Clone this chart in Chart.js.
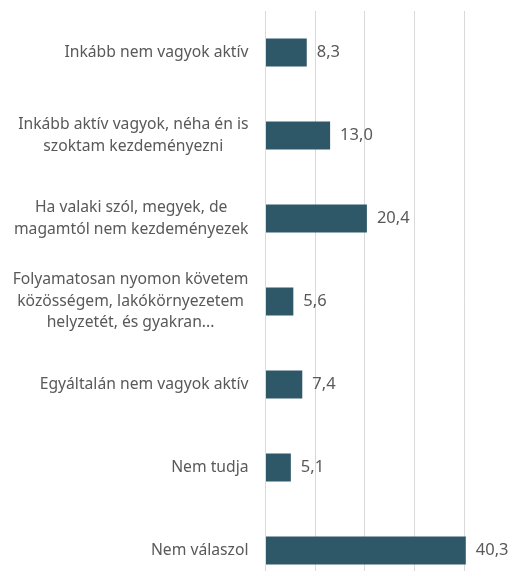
<!DOCTYPE html>
<html lang="hu">
<head>
    <meta charset="UTF-8">
    <title>Aktivitás</title>
    <style>
        body {
            margin: 0;
            overflow: hidden;
            background: #ffffff;
            font-family: "Noto Sans", sans-serif;
        }

        #chartBox {
            position: relative;
            width: 516px;
            height: 592px;
        }
    </style>
    <script src="https://cdn.jsdelivr.net/npm/chart.js"></script>
</head>
<body>
    <div id="chartBox">
        <canvas id="chart1"></canvas>
    </div>
    <script>
        // Categories (multi-line labels as arrays)
        const categories = [
            ["Inkább nem vagyok aktív"],
            ["Inkább aktív vagyok, néha én is", "szoktam kezdeményezni"],
            ["Ha valaki szól, megyek, de", "magamtól nem kezdeményezek"],
            ["Folyamatosan nyomon követem", "közösségem, lakókörnyezetem", "helyzetét, és gyakran..."],
            ["Egyáltalán nem vagyok aktív"],
            ["Nem tudja"],
            ["Nem válaszol"]
        ];
        const values = [8.3, 13.0, 20.4, 5.6, 7.4, 5.1, 40.3];
        const xTicks = [0, 10, 20, 30, 40, 50];

        const barColor = '#2e5868';
        const textColor = '#595959';

        function formatValue(v) {
            return v.toFixed(1).replace('.', ',');
        }

        // Category labels: block right-aligned, lines centered inside block (like Excel)
        const categoryLabels = {
            id: 'categoryLabels',
            afterDraw(chart) {
                const ctx = chart.ctx;
                const yScale = chart.scales.y;
                const lineH = 21.5;
                const right = yScale.right - 17;
                ctx.save();
                ctx.font = '15.7px "Noto Sans", sans-serif';
                ctx.fillStyle = textColor;
                ctx.textAlign = 'center';
                ctx.textBaseline = 'middle';
                categories.forEach((lines, i) => {
                    const yc = yScale.getPixelForTick(i);
                    const widest = Math.max(...lines.map(l => ctx.measureText(l).width));
                    const xc = right - widest / 2;
                    const top = yc - (lines.length - 1) * lineH / 2;
                    lines.forEach((l, j) => ctx.fillText(l, xc, top + j * lineH));
                });
                ctx.restore();
            }
        };

        // Value labels at the end of each bar
        const valueLabels = {
            id: 'valueLabels',
            afterDatasetsDraw(chart) {
                const ctx = chart.ctx;
                const meta = chart.getDatasetMeta(0);
                ctx.save();
                ctx.font = '16.5px "Noto Sans", sans-serif';
                ctx.fillStyle = textColor;
                ctx.textAlign = 'left';
                ctx.textBaseline = 'middle';
                meta.data.forEach((bar, i) => {
                    ctx.fillText(formatValue(values[i]), bar.x + 10, bar.y);
                });
                ctx.restore();
            }
        };

        new Chart(document.getElementById('chart1'), {
            type: 'bar',
            data: {
                labels: categories.map(c => c.join(' ')),
                datasets: [{
                    data: values,
                    backgroundColor: barColor,
                    borderWidth: 0,
                    barPercentage: 0.34,
                    categoryPercentage: 1
                }]
            },
            options: {
                indexAxis: 'y',
                responsive: true,
                maintainAspectRatio: false,
                animation: false,
                layout: {
                    padding: { top: 11, right: 2, bottom: 0, left: 0 }
                },
                plugins: {
                    legend: { display: false },
                    tooltip: { enabled: false }
                },
                scales: {
                    x: {
                        min: 0,
                        max: 50,
                        afterBuildTicks: (scale) => {
                            scale.ticks = xTicks.map(v => ({ value: v }));
                        },
                        ticks: { display: false },
                        grid: {
                            color: '#d9d9d9',
                            lineWidth: 1,
                            drawTicks: false
                        },
                        border: { display: false }
                    },
                    y: {
                        afterFit: (scale) => {
                            scale.width = 265.5;
                        },
                        ticks: { display: false },
                        grid: { display: false, drawTicks: false },
                        border: { display: false }
                    }
                }
            },
            plugins: [categoryLabels, valueLabels]
        });
    </script>
</body>
</html>
